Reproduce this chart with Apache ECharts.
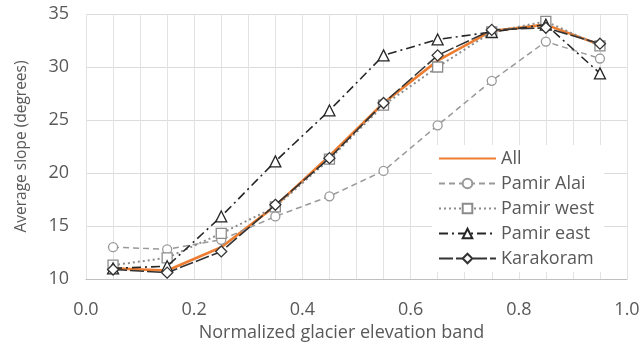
<!DOCTYPE html>
<html>
<head>
<meta charset="utf-8">
<script src="https://cdn.jsdelivr.net/npm/echarts@6/dist/echarts.min.js"></script>
<style>
  html, body { margin: 0; padding: 0; background: #fff; }
  #chart { width: 640px; height: 342px; }
</style>
</head>
<body>
<div id="chart"></div>
<script>
// normalized elevation bands (bin centres)
const bands = [0.05, 0.15, 0.25, 0.35, 0.45, 0.55, 0.65, 0.75, 0.85, 0.95];

// average slope per band
const allRegions = [11.0, 10.8, 13.0, 16.9, 21.6, 26.6, 30.6, 33.4, 34.0, 32.1];
const pamirAlai = [13.0, 12.8, 13.7, 15.9, 17.8, 20.2, 24.5, 28.7, 32.4, 30.8];
const pamirWest = [11.3, 12.0, 14.3, 16.8, 21.3, 26.4, 30.0, 33.3, 34.3, 32.0];
const pamirEast = [11.0, 11.2, 15.9, 21.1, 25.9, 31.1, 32.6, 33.3, 34.0, 29.4];
const karakoram = [10.9, 10.6, 12.6, 17.0, 21.4, 26.6, 31.1, 33.5, 33.7, 32.2];

const FONT = "'Open Sans', sans-serif";
const GREY_TXT = "#595959";

function pairs(vals) {
  return bands.map((b, i) => [b, vals[i]]);
}

// one line series; markers are hollow (white fill)
function makeSeries(name, vals, color, dash, width, symbol, size, z) {
  const s = {
    name: name,
    type: "line",
    data: pairs(vals),
    symbol: symbol,
    symbolSize: size,
    z: z,
    lineStyle: { color: color, width: width, type: dash },
    itemStyle: { color: "#fff", borderColor: color, borderWidth: 1.3 },
    emphasis: { disabled: true },
  };
  if (symbol === "none") {
    // no marker, also keep it out of the legend icon
    s.itemStyle = { color: "rgba(0,0,0,0)", borderColor: "rgba(0,0,0,0)", borderWidth: 0 };
  }
  return s;
}

const chart = echarts.init(document.getElementById("chart"));

chart.setOption({
  animation: false,
  textStyle: { fontFamily: FONT },
  grid: { left: 86, right: 13, top: 14, bottom: 63, outerBoundsMode: "none" },
  xAxis: {
    type: "value",
    min: 0,
    max: 1,
    interval: 0.2,
    name: "Normalized glacier elevation band",
    nameLocation: "middle",
    nameGap: 43,
    nameTextStyle: { color: GREY_TXT, fontSize: 18, fontFamily: FONT, padding: [0, 30, 0, 0] },
    axisLine: { show: true, lineStyle: { color: "#bfbfbf", width: 1 } },
    axisTick: { show: false },
    axisLabel: {
      color: GREY_TXT,
      fontSize: 18,
      margin: 22,
      formatter: (v) => v.toFixed(1),
    },
    splitLine: { show: true, lineStyle: { color: "#e3e3e3" } },
    minorTick: { show: false, splitNumber: 4 },
    minorSplitLine: { show: true, lineStyle: { color: "#e3e3e3" } },
  },
  yAxis: {
    type: "value",
    min: 10,
    max: 35,
    interval: 5,
    name: "Average slope (degrees)",
    nameLocation: "middle",
    nameGap: 56,
    nameTextStyle: { color: GREY_TXT, fontSize: 15.5, fontFamily: FONT },
    axisLine: { show: false },
    axisTick: { show: false },
    axisLabel: { color: GREY_TXT, fontSize: 18, margin: 17 },
    splitLine: { show: true, lineStyle: { color: "#dcdcdc" } },
  },
  legend: {
    orient: "vertical",
    left: 432,
    top: 145,
    padding: [3, 10, 3, 6],
    backgroundColor: "#fff",
    itemWidth: 57,
    itemHeight: 12,
    itemGap: 4,
    textStyle: { color: GREY_TXT, fontSize: 18, fontFamily: FONT, lineHeight: 21 },
    data: ["All", "Pamir Alai", "Pamir west", "Pamir east", "Karakoram"],
  },
  series: [
    makeSeries("All", allRegions, "#ED7D31", "solid", 2.6, "none", 0, 2),
    makeSeries("Pamir Alai", pamirAlai, "#999999", [6, 4], 1.5, "circle", 9, 3),
    makeSeries("Pamir west", pamirWest, "#8c8c8c", [2, 3], 2, "rect", 10, 4),
    makeSeries("Pamir east", pamirEast, "#262626", [9, 4, 2, 4], 1.6, "triangle", 11, 5),
    makeSeries("Karakoram", karakoram, "#333333", [14, 3], 1.6, "diamond", 11, 6),
  ],
});
</script>
</body>
</html>
